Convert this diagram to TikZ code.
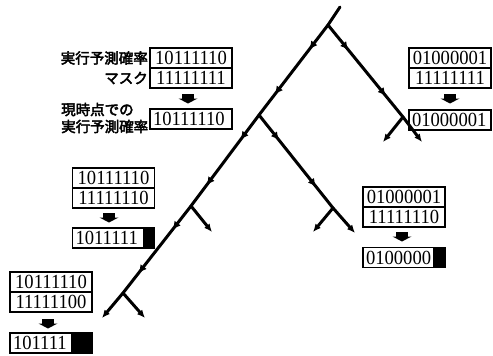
\documentclass[tikz,border=0pt]{standalone}
\usepackage{fontspec}
\setmainfont{Liberation Serif}
\newfontfamily\digitfont[FakeStretch=0.93]{Liberation Serif}
\newfontfamily\jpfont[AutoFakeBold=3]{Noto Sans CJK JP}
\usetikzlibrary{arrows.meta,decorations.markings}
\tikzset{
  row/.style={draw, line width=1.6pt,
    minimum width=82pt, minimum height=20pt, inner sep=0pt,
    font=\digitfont\fontsize{20}{20}\selectfont},
  res/.style={row, text width=76pt, align=left},
  jp/.style={inner sep=0pt, font=\jpfont\bfseries\fontsize{14.5}{17}\selectfont},
  tree/.style={line width=3pt, line cap=round},
  endarrow/.style={-{Latex[length=8pt,width=7pt]}},
  midarrows/.style={postaction={decorate, decoration={markings,
    mark=at position 0.27 with {\arrow{Latex[length=8pt,width=8pt]}},
    mark=at position 0.77 with {\arrow{Latex[length=8pt,width=8pt]}}}}},
  downarr/.pic={\fill (-6,-0.5) rectangle (6,5);
                \fill (-9.5,4.5) -- (9.5,4.5) -- (0,9.5) -- cycle;}
}
\begin{document}
\begin{tikzpicture}[x=1pt,y=-1pt]
\useasboundingbox (0,0) rectangle (493,356);
% tree
\coordinate (top) at (340,7);
\coordinate (b0) at (328,25);
\coordinate (b1) at (259,115);
\coordinate (b2) at (191,206);
\coordinate (b3) at (123,293);
\coordinate (e3) at (102,318);
\coordinate (e3r) at (145,318);
\coordinate (e2r) at (212,232);
\coordinate (b4) at (333,208);
\coordinate (e4l) at (313,232);
\coordinate (e4r) at (355,233);
\coordinate (b5) at (403,117);
\coordinate (e5l) at (383,142);
\coordinate (e5r) at (422,142);
\draw[tree] (top) -- (b0);
\draw[tree,midarrows] (b0) -- (b1);
\draw[tree,midarrows] (b1) -- (b2);
\draw[tree,midarrows] (b2) -- (b3);
\draw[tree,endarrow] (b3) -- (e3);
\draw[tree,endarrow] (b3) -- (e3r);
\draw[tree,endarrow] (b2) -- (e2r);
\draw[tree,midarrows] (b1) -- (b4);
\draw[tree,endarrow] (b4) -- (e4l);
\draw[tree,endarrow] (b4) -- (e4r);
\draw[tree,midarrows] (b0) -- (b5);
\draw[tree,endarrow] (b5) -- (e5l);
\draw[tree,endarrow] (b5) -- (e5r);
% box 1
\node[row] (p1a) at (191,58) {10111110};
\node[row] (p1b) at (191,78) {11111111};
\pic at (188,94) {downarr};
\node[res] (p1c) at (191,119) {10111110};
\node[jp,anchor=east] (l1) at (148,58) {実行予測確率};
\node[jp,anchor=east] (l2) at (148,78) {マスク};
\node[jp,anchor=west,align=left] (l3) at (61,118) {現時点での\\実行予測確率};
% box 2
\node[row] (p2a) at (450,58) {01000001};
\node[row] (p2b) at (450,78) {11111111};
\pic at (450,94) {downarr};
\node[res] (p2c) at (450,120) {01000001};
% box 3
\node[row] (p3a) at (113.5,178) {10111110};
\node[row] (p3b) at (113.5,198) {11111110};
\pic at (109,213) {downarr};
\node[res] (p3c) at (113.5,238) {1011111};
\fill (p3c.north east) rectangle ([xshift=-12pt]p3c.south east);
% box 4
\node[row] (p4a) at (404,197) {01000001};
\node[row] (p4b) at (404,217) {11111110};
\pic at (402,232) {downarr};
\node[res] (p4c) at (404,257.5) {0100000};
\fill (p4c.north east) rectangle ([xshift=-13pt]p4c.south east);
% box 5
\node[row] (p5a) at (51,282) {10111110};
\node[row] (p5b) at (51,302) {11111100};
\pic at (48,319) {downarr};
\node[res] (p5c) at (51,343) {101111};
\fill (p5c.north east) rectangle ([xshift=-22pt]p5c.south east);
\end{tikzpicture}
\end{document}
